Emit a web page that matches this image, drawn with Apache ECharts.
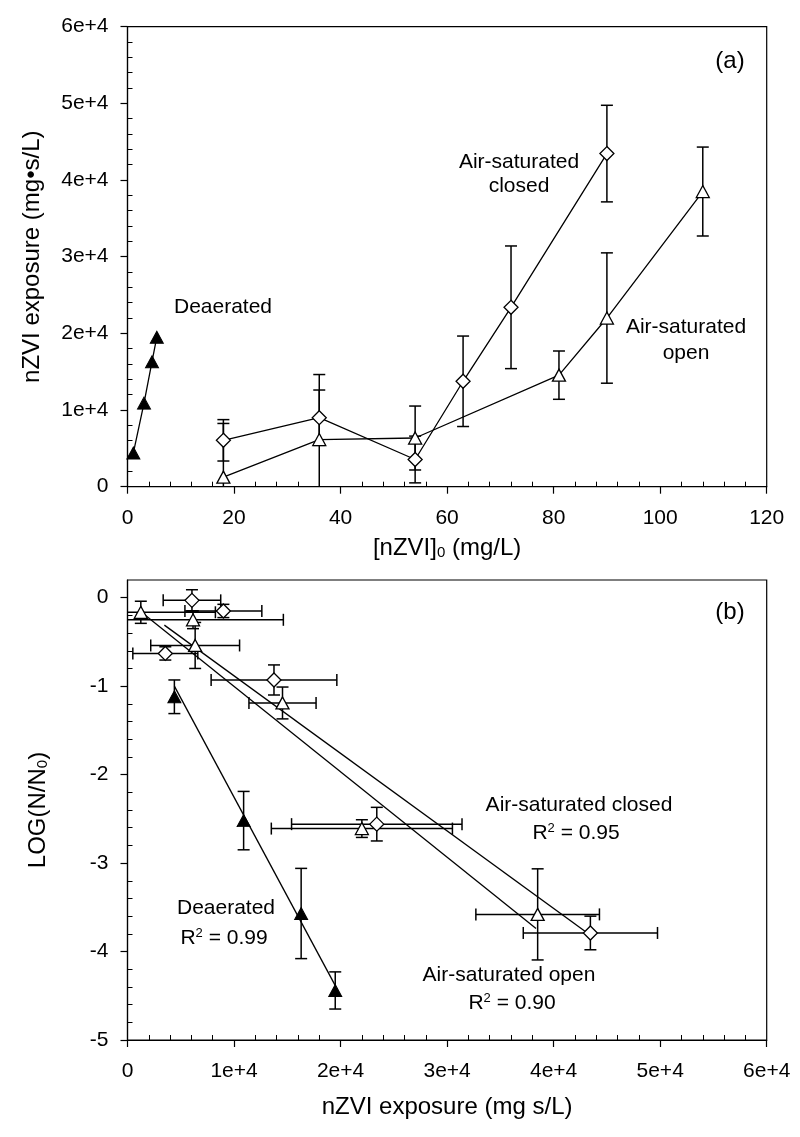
<!DOCTYPE html>
<html><head><meta charset="utf-8">
<script src="https://cdn.jsdelivr.net/npm/echarts@6/dist/echarts.min.js"></script>
<style>html,body{margin:0;padding:0;background:#fff}#c{width:800px;height:1137px}</style>
</head><body><div id="c"></div>
<script>
// ---------- data ----------
const concDeaerated = [1.1, 3.1, 4.6, 5.5];
const expDeaerated = [4400, 10900, 16300, 19500];
const logDeaerated = [-1.12, -2.52, -3.57, -4.44];
const logErrDeaerated = [0.19, 0.33, 0.51, 0.21];

const concClosed = [18, 36, 54, 63, 72, 90];
const expClosed = [6050, 9000, 3550, 13750, 23400, 43450];
const expErrClosed = [2700, 3610, 3050, 5900, 8000, 6300];
const logClosed = [-0.03, -0.15, -0.63, -0.93, -2.56, -3.79];
const logErrClosed = [0.12, 0.075, 0.075, 0.17, 0.19, 0.19];

const concOpen = [18, 36, 54, 81, 90, 108];
const expOpen = [1250, 6150, 6350, 14550, 22000, 38500];
const expErrOpen = [7000, 8480, 4170, 3150, 8500, 5800];
const logOpen = [-0.165, -0.25, -0.54, -1.19, -2.61, -3.58];
const logErrOpen = [0.125, 0.1, 0.26, 0.18, 0.1, 0.515];

const fitDeaerated = [[4400, -1.0], [19480, -4.38]];
const fitClosed = [[3460, -0.31], [43040, -3.78]];
const fitOpen = [[1170, -0.15], [38350, -3.74]];

const expTickLabels = ['0', '1e+4', '2e+4', '3e+4', '4e+4', '5e+4', '6e+4'];
const logTickValues = [-5, -4, -3, -2, -1, 0];

// ---------- layout ----------
const FONT = '"Liberation Sans", Arial, sans-serif';
const GL = 127.5, GW = 639.2, GH = 460, TA = 26.7, TB = 580;
const TB_MINOR = TB + GH * (0.2 / 5.2), HB_MINOR = GH * (5 / 5.2);

const chart = echarts.init(document.getElementById('c'));

function mainAxis(extra) {
  return Object.assign({
    type: 'value',
    axisLine: { show: true, onZero: false, lineStyle: { color: '#000', width: 1.2 } },
    axisTick: { show: true, inside: false, length: 7, lineStyle: { color: '#000', width: 1.2 } },
    axisLabel: { color: '#000', fontSize: 21, fontFamily: FONT, showMinLabel: true, showMaxLabel: true },
    splitLine: { show: false },
    nameTextStyle: { color: '#000', fontSize: 24, fontFamily: FONT,
      rich: { sub: { fontSize: 15, fontFamily: FONT, color: '#000', padding: [10, 0, 0, 0] } } },
    nameLocation: 'middle'
  }, extra);
}
function minorAxis(extra) {
  return Object.assign({
    type: 'value',
    axisLine: { show: false, onZero: false },
    axisTick: { show: false, inside: true },
    axisLabel: { show: false },
    splitLine: { show: false },
    minorTick: { show: true, splitNumber: 5, length: 5, lineStyle: { color: '#000', width: 1 } }
  }, extra);
}
function hiddenAxis(extra) {
  return Object.assign({ type: 'value', show: false, splitLine: { show: false } }, extra);
}
const expFmt = v => expTickLabels[Math.round(v / 10000)];

function errRender(params, api) {
  const x = api.value(0), y = api.value(1), ex = api.value(2), ey = api.value(3);
  const cs = params.coordSys;
  const style = { stroke: '#000', lineWidth: 1.5, fill: null };
  const cap = 6;
  const ch = [];
  const p = api.coord([x, y]);
  if (ey > 0) {
    let t = api.coord([x, y + ey])[1], b = api.coord([x, y - ey])[1];
    const tc = t < cs.y, bc = b > cs.y + cs.height;
    t = Math.max(t, cs.y); b = Math.min(b, cs.y + cs.height);
    ch.push({ type: 'line', shape: { x1: p[0], y1: t, x2: p[0], y2: b }, style });
    if (!tc) ch.push({ type: 'line', shape: { x1: p[0] - cap, y1: t, x2: p[0] + cap, y2: t }, style });
    if (!bc) ch.push({ type: 'line', shape: { x1: p[0] - cap, y1: b, x2: p[0] + cap, y2: b }, style });
  }
  if (ex > 0) {
    let l = api.coord([x - ex, y])[0], r = api.coord([x + ex, y])[0];
    const lc = l < cs.x, rc = r > cs.x + cs.width;
    l = Math.max(l, cs.x); r = Math.min(r, cs.x + cs.width);
    ch.push({ type: 'line', shape: { x1: l, y1: p[1], x2: r, y2: p[1] }, style });
    if (!lc) ch.push({ type: 'line', shape: { x1: l, y1: p[1] - cap, x2: l, y2: p[1] + cap }, style });
    if (!rc) ch.push({ type: 'line', shape: { x1: r, y1: p[1] - cap, x2: r, y2: p[1] + cap }, style });
  }
  return { type: 'group', children: ch };
}
function errSeries(xi, yi, data) {
  return { type: 'custom', xAxisIndex: xi, yAxisIndex: yi, renderItem: errRender, z: 2,
    dimensions: ['x', 'y', 'ex', 'ey'], encode: { x: 0, y: 1 }, data, silent: true };
}
const openStyle = { color: '#fff', borderColor: '#000', borderWidth: 1.3, opacity: 1 };
const fillStyle = { color: '#000', borderColor: '#000', borderWidth: 1, opacity: 1 };
const lineSt = { color: '#000', width: 1.3 };

const txt = (text, x, y, size, extra) => ({
  type: 'text', x, y, silent: true,
  style: Object.assign({ text, fill: '#000', fontSize: size || 21, fontFamily: FONT,
    align: 'center', verticalAlign: 'middle', textAlign: 'center', textVerticalAlign: 'middle',
    rich: { sup: { fontSize: 13, fontFamily: FONT, fill: '#000', padding: [0, 0, 10, 0] } } }, extra || {})
});

chart.setOption({
  animation: false,
  backgroundColor: '#fff',
  grid: [
    { left: GL, top: TA, width: GW, height: GH, show: true, borderColor: '#000', borderWidth: 1.2, containLabel: false },
    { left: GL, top: TA, width: GW, height: GH, containLabel: false },
    { left: GL, top: TB, width: GW, height: GH, show: true, borderColor: '#000', borderWidth: 1.2, containLabel: false },
    { left: GL, top: TB, width: GW, height: GH, containLabel: false },
    { left: GL, top: TB_MINOR, width: GW, height: HB_MINOR, containLabel: false }
  ],
  xAxis: [
    mainAxis({ gridIndex: 0, position: 'bottom', min: 0, max: 120, interval: 20,
      name: '[nZVI]{sub|0} (mg/L)', nameGap: 49,
      axisLabel: { color: '#000', fontSize: 21, fontFamily: FONT, margin: 21, showMinLabel: true, showMaxLabel: true } }),
    minorAxis({ gridIndex: 1, position: 'bottom', min: 0, max: 120, interval: 20 }),
    mainAxis({ gridIndex: 2, position: 'bottom', min: 0, max: 60000, interval: 10000,
      name: 'nZVI exposure (mg s/L)', nameGap: 55,
      axisLabel: { color: '#000', fontSize: 21, fontFamily: FONT, margin: 21, formatter: expFmt, showMinLabel: true, showMaxLabel: true } }),
    minorAxis({ gridIndex: 3, position: 'bottom', min: 0, max: 60000, interval: 10000 }),
    hiddenAxis({ gridIndex: 4, min: 0, max: 60000 })
  ],
  yAxis: [
    mainAxis({ gridIndex: 0, position: 'left', min: 0, max: 60000, interval: 10000,
      name: 'nZVI exposure (mg•s/L)', nameGap: 83,
      axisLabel: { color: '#000', fontSize: 21, fontFamily: FONT, margin: 19, formatter: expFmt, showMinLabel: true, showMaxLabel: true } }),
    minorAxis({ gridIndex: 1, position: 'left', min: 0, max: 60000, interval: 10000 }),
    mainAxis({ gridIndex: 2, position: 'left', min: -5, max: 0.2, interval: 1,
      name: 'LOG(N/N{sub|0})', nameGap: 77,
      axisTick: { show: true, inside: false, length: 7, lineStyle: { color: '#000', width: 1.2 }, customValues: logTickValues },
      axisLabel: { color: '#000', fontSize: 21, fontFamily: FONT, margin: 19, customValues: logTickValues,
        formatter: v => (logTickValues.indexOf(v) >= 0 ? String(v) : '') } }),
    hiddenAxis({ gridIndex: 3, min: -5, max: 0.2 }),
    minorAxis({ gridIndex: 4, position: 'left', min: -5, max: 0, interval: 1 })
  ],
  series: [
    // ----- panel (a) -----
    errSeries(0, 0, concClosed.map((c, i) => [c, expClosed[i], 0, expErrClosed[i]])),
    errSeries(0, 0, concOpen.map((c, i) => [c, expOpen[i], 0, expErrOpen[i]])),
    { type: 'line', name: 'Air-saturated closed', xAxisIndex: 0, yAxisIndex: 0, z: 3,
      data: concClosed.map((c, i) => [c, expClosed[i]]),
      symbol: 'diamond', symbolSize: 14, showAllSymbol: true, itemStyle: openStyle, lineStyle: lineSt },
    { type: 'line', name: 'Air-saturated open', xAxisIndex: 0, yAxisIndex: 0, z: 3,
      data: concOpen.map((c, i) => [c, expOpen[i]]),
      symbol: 'triangle', symbolSize: [13, 12], showAllSymbol: true, itemStyle: openStyle, lineStyle: lineSt },
    { type: 'line', name: 'Deaerated', xAxisIndex: 0, yAxisIndex: 0, z: 3,
      data: concDeaerated.map((c, i) => [c, expDeaerated[i]]),
      symbol: 'triangle', symbolSize: [13, 12], showAllSymbol: true, itemStyle: fillStyle, lineStyle: lineSt },
    // ----- panel (b) -----
    { type: 'line', xAxisIndex: 2, yAxisIndex: 2, z: 2, data: fitClosed, symbol: 'none', lineStyle: lineSt },
    { type: 'line', xAxisIndex: 2, yAxisIndex: 2, z: 2, data: fitOpen, symbol: 'none', lineStyle: lineSt },
    { type: 'line', xAxisIndex: 2, yAxisIndex: 2, z: 2, data: fitDeaerated, symbol: 'none', lineStyle: lineSt },
    errSeries(2, 2, expClosed.map((e, i) => [e, logClosed[i], expErrClosed[i], logErrClosed[i]])),
    errSeries(2, 2, expOpen.map((e, i) => [e, logOpen[i], expErrOpen[i], logErrOpen[i]])),
    errSeries(2, 2, expDeaerated.map((e, i) => [e, logDeaerated[i], 0, logErrDeaerated[i]])),
    { type: 'scatter', xAxisIndex: 2, yAxisIndex: 2, z: 4, symbol: 'diamond', symbolSize: 14,
      data: expClosed.map((e, i) => [e, logClosed[i]]), itemStyle: openStyle },
    { type: 'scatter', xAxisIndex: 2, yAxisIndex: 2, z: 4, symbol: 'triangle', symbolSize: [13, 12],
      data: expOpen.map((e, i) => [e, logOpen[i]]), itemStyle: openStyle },
    { type: 'scatter', xAxisIndex: 2, yAxisIndex: 2, z: 4, symbol: 'triangle', symbolSize: [13, 12],
      data: expDeaerated.map((e, i) => [e, logDeaerated[i]]), itemStyle: fillStyle }
  ],
  graphic: [
    txt('(a)', 730, 61, 24),
    txt('(b)', 730, 612, 24),
    txt('Deaerated', 223, 307),
    txt('Air-saturated\nclosed', 519, 174, 21, { lineHeight: 24 }),
    txt('Air-saturated\nopen', 686, 340, 21, { lineHeight: 26 }),
    txt('Air-saturated closed', 579, 805),
    txt('R{sup|2} = 0.95', 576, 833),
    txt('Air-saturated open', 509, 975),
    txt('R{sup|2} = 0.90', 512, 1003),
    txt('Deaerated', 226, 908),
    txt('R{sup|2} = 0.99', 224, 938)
  ]
});
</script></body></html>
